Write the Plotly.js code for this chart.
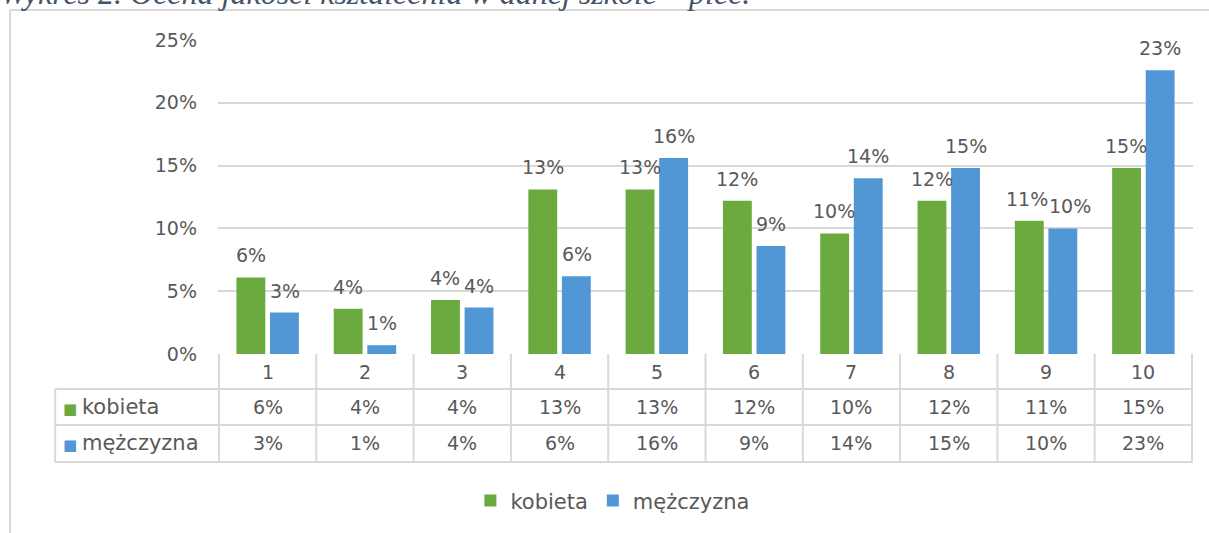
<!DOCTYPE html>
<html>
<head>
<meta charset="utf-8">
<script src="https://cdn.plot.ly/plotly-3.0.1.min.js"></script>
<style>
html,body{margin:0;padding:0;background:#fff;}
#chart{width:1209px;height:533px;}
</style>
</head>
<body>
<div id="chart"></div>
<script>
// ---- data ----
const titleText = 'Wykres 2. Ocena jakości kształcenia w danej szkole – płeć.';
const categories = ['1','2','3','4','5','6','7','8','9','10'];
const seriesNames = ['kobieta','mężczyzna'];
const kobieta = [6.1, 3.6, 4.3, 13.1, 13.1, 12.2, 9.6, 12.2, 10.6, 14.8];
const mezczyzna = [3.3, 0.7, 3.7, 6.2, 15.6, 8.6, 14.0, 14.8, 10.0, 22.6];
const yTicks = [0, 5, 10, 15, 20, 25];

// ---- styles ----
const green = '#6aaa3f';
const blue = '#5197d5';
const textGray = '#595959';
const lineGray = '#d9d9d9';
const FONT = '"DejaVu Sans", sans-serif';
const FS = 19;      // numbers
const FSW = 21;     // words

const fmt = v => Math.round(v) + '%';

const traces = [
  {type:'bar', name:seriesNames[0], x:categories, y:kobieta, marker:{color:green}, hoverinfo:'none'},
  {type:'bar', name:seriesNames[1], x:categories, y:mezczyzna, marker:{color:blue}, hoverinfo:'none'}
];

const annotations = [];
const shapes = [];

// data labels above bars, pushed apart when a pair would collide
const pxPerUnit = 314 / 25;
const labelW = s => s.length * 0.66 * FS;
categories.forEach((c, i) => {
  const tk = fmt(kobieta[i]), tm = fmt(mezczyzna[i]);
  let sk = -17, sm = 17;
  const dy = Math.abs(kobieta[i] - mezczyzna[i]) * pxPerUnit;
  const need = (labelW(tk) + labelW(tm)) / 2 + 6;
  if (dy < FS && need > sm - sk) {
    const extra = need - (sm - sk);
    sk -= extra * 0.25;
    sm += extra * 0.75;
  }
  annotations.push({x:i, y:kobieta[i], xref:'x', yref:'y', text:tk, showarrow:false,
    xanchor:'center', yanchor:'bottom', xshift:sk, yshift:9,
    font:{family:FONT, size:FS, color:textGray}});
  annotations.push({x:i, y:mezczyzna[i], xref:'x', yref:'y', text:tm, showarrow:false,
    xanchor:'center', yanchor:'bottom', xshift:sm, yshift:9,
    font:{family:FONT, size:FS, color:textGray}});
});

// table geometry in paper coords
const rowTop = 0, rowCat = -0.1115, rowK = -0.226, rowM = -0.344;
const catY = -0.0573, kY = -0.169, mY = -0.283;
const tableLeft = -0.167;

// category row + values
categories.forEach((c, i) => {
  annotations.push({x:i, y:catY, xref:'x', yref:'paper', text:c, showarrow:false,
    xanchor:'center', yanchor:'middle', font:{family:FONT, size:FS, color:textGray}});
  annotations.push({x:i, y:kY, xref:'x', yref:'paper', text:fmt(kobieta[i]), showarrow:false,
    xanchor:'center', yanchor:'middle', font:{family:FONT, size:FS, color:textGray}});
  annotations.push({x:i, y:mY, xref:'x', yref:'paper', text:fmt(mezczyzna[i]), showarrow:false,
    xanchor:'center', yanchor:'middle', font:{family:FONT, size:FS, color:textGray}});
});
// row headers
[[seriesNames[0], green, kY], [seriesNames[1], blue, mY]].forEach(([n, col, y]) => {
  annotations.push({x:tableLeft + 0.006, y:y, xref:'paper', yref:'paper',
    text:'<span style="color:' + col + '; font-size:15px">■ </span>' + n,
    showarrow:false, xanchor:'left', yanchor:'middle',
    font:{family:FONT, size:FSW, color:textGray}});
});

// vertical lines of table
for (let i = 0; i <= categories.length; i++) {
  shapes.push({type:'line', xref:'x', yref:'paper', x0:i-0.5, x1:i-0.5, y0:rowTop, y1:rowM,
    line:{color:lineGray, width:2}});
}
shapes.push({type:'line', xref:'paper', yref:'paper', x0:tableLeft, x1:tableLeft, y0:rowCat, y1:rowM, line:{color:lineGray, width:2}});
[rowCat, rowK, rowM].forEach(y => {
  shapes.push({type:'line', xref:'paper', yref:'paper', x0:tableLeft, x1:1, y0:y, y1:y, line:{color:lineGray, width:2}});
});

// outer frame (left and top)
shapes.push({type:'line', xref:'paper', yref:'paper', x0:-0.2133, x1:-0.2133, y0:1.0955, y1:-0.6, line:{color:lineGray, width:2}});
shapes.push({type:'line', xref:'paper', yref:'paper', x0:-0.2133, x1:1.05, y0:1.0955, y1:1.0955, line:{color:lineGray, width:2}});

// title (cut at top, as in the reference)
annotations.push({x:-0.226, y:1.099, xref:'paper', yref:'paper', text:titleText, showarrow:false,
  xanchor:'left', yanchor:'bottom', yshift:-4,
  font:{family:'"Liberation Serif", "Times New Roman", serif', size:32, color:'#44546a', style:'italic'}});

const layout = {
  width:1209, height:533,
  margin:{l:218, r:16, t:40, b:179},
  paper_bgcolor:'#ffffff', plot_bgcolor:'#ffffff',
  barmode:'group', bargap:0.31, bargroupgap:0.14,
  showlegend:true,
  legend:{orientation:'h', x:0.405, xanchor:'center', y:-0.468, yanchor:'middle',
    font:{family:FONT, size:FSW, color:textGray}, itemwidth:30, traceorder:'normal'},
  xaxis:{type:'category', showticklabels:false, showgrid:false, zeroline:false, showline:false, ticks:'', fixedrange:true},
  yaxis:{range:[0,25], tickvals:yTicks, ticktext:yTicks.map(v => v + '%'), showgrid:true, gridcolor:lineGray, gridwidth:2,
    zeroline:false, showline:false, ticks:'', ticklabelstandoff:20,
    tickfont:{family:FONT, size:FS, color:textGray}, fixedrange:true},
  annotations: annotations,
  shapes: shapes
};

Plotly.newPlot('chart', traces, layout, {displayModeBar:false, staticPlot:true});
</script>
</body>
</html>
